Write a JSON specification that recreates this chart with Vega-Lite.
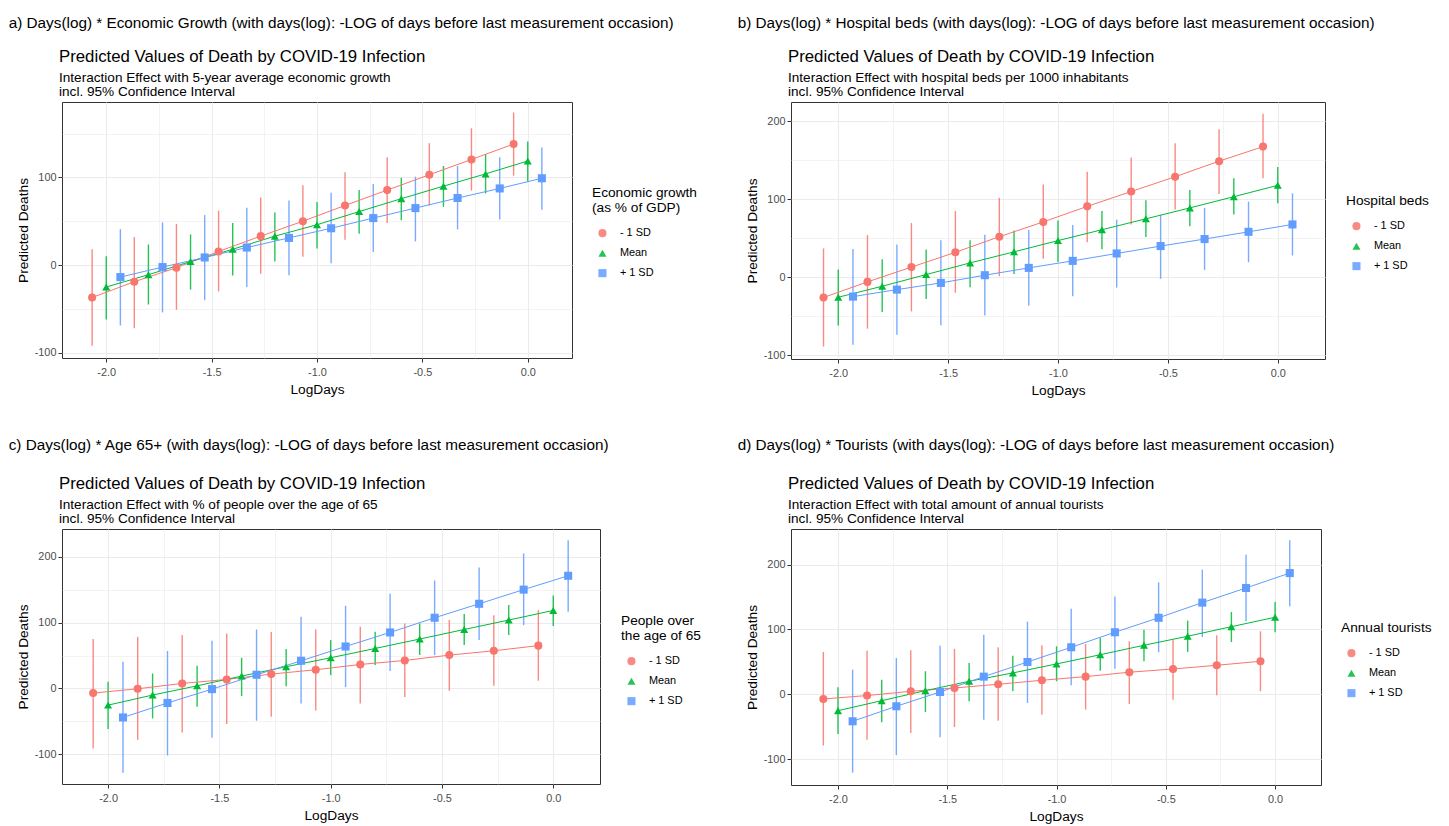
{
"$schema": "https://vega.github.io/schema/vega-lite/v6.json",
"background": "white",
"padding": {"left": 8, "top": 15, "right": 0, "bottom": 0},
"datasets": {"d": [
{"p":"a","g":"- 1 SD","x":-2.067,"y":-37,"lo":-92,"hi":18},
{"p":"a","g":"- 1 SD","x":-1.867,"y":-19,"lo":-72,"hi":32},
{"p":"a","g":"- 1 SD","x":-1.667,"y":-3,"lo":-51,"hi":47},
{"p":"a","g":"- 1 SD","x":-1.467,"y":15.5,"lo":-30,"hi":62},
{"p":"a","g":"- 1 SD","x":-1.267,"y":33,"lo":-10,"hi":77},
{"p":"a","g":"- 1 SD","x":-1.067,"y":50,"lo":9.5,"hi":91},
{"p":"a","g":"- 1 SD","x":-0.867,"y":68,"lo":29,"hi":106},
{"p":"a","g":"- 1 SD","x":-0.667,"y":85.5,"lo":48,"hi":123},
{"p":"a","g":"- 1 SD","x":-0.467,"y":103,"lo":68,"hi":139},
{"p":"a","g":"- 1 SD","x":-0.267,"y":120.5,"lo":85,"hi":156},
{"p":"a","g":"- 1 SD","x":-0.067,"y":138,"lo":102,"hi":174},
{"p":"a","g":"Mean","x":-2.0,"y":-25,"lo":-62,"hi":10},
{"p":"a","g":"Mean","x":-1.8,"y":-11,"lo":-45,"hi":23.5},
{"p":"a","g":"Mean","x":-1.6,"y":4,"lo":-28,"hi":35},
{"p":"a","g":"Mean","x":-1.4,"y":18,"lo":-12,"hi":48},
{"p":"a","g":"Mean","x":-1.2,"y":33,"lo":4,"hi":60},
{"p":"a","g":"Mean","x":-1.0,"y":46,"lo":19,"hi":72},
{"p":"a","g":"Mean","x":-0.8,"y":61,"lo":35.7,"hi":85.5},
{"p":"a","g":"Mean","x":-0.6,"y":75.7,"lo":51,"hi":99.6},
{"p":"a","g":"Mean","x":-0.4,"y":90,"lo":66.5,"hi":113},
{"p":"a","g":"Mean","x":-0.2,"y":104,"lo":81.7,"hi":126.7},
{"p":"a","g":"Mean","x":0.0,"y":118.7,"lo":95,"hi":141},
{"p":"a","g":"+ 1 SD","x":-1.933,"y":-13.7,"lo":-69,"hi":41},
{"p":"a","g":"+ 1 SD","x":-1.733,"y":-2.3,"lo":-54,"hi":48.6},
{"p":"a","g":"+ 1 SD","x":-1.533,"y":8.7,"lo":-40,"hi":57},
{"p":"a","g":"+ 1 SD","x":-1.333,"y":20,"lo":-25,"hi":65.4},
{"p":"a","g":"+ 1 SD","x":-1.133,"y":31,"lo":-11.5,"hi":73.7},
{"p":"a","g":"+ 1 SD","x":-0.933,"y":42,"lo":2,"hi":82.5},
{"p":"a","g":"+ 1 SD","x":-0.733,"y":53.6,"lo":15,"hi":92.5},
{"p":"a","g":"+ 1 SD","x":-0.533,"y":65,"lo":27,"hi":100.8},
{"p":"a","g":"+ 1 SD","x":-0.333,"y":76.5,"lo":40.6,"hi":113},
{"p":"a","g":"+ 1 SD","x":-0.133,"y":87.4,"lo":52,"hi":123},
{"p":"a","g":"+ 1 SD","x":0.067,"y":99,"lo":63,"hi":134},
{"p":"b","g":"- 1 SD","x":-2.067,"y":-26,"lo":-89,"hi":37},
{"p":"b","g":"- 1 SD","x":-1.867,"y":-6,"lo":-66,"hi":54},
{"p":"b","g":"- 1 SD","x":-1.667,"y":13,"lo":-44,"hi":69.5},
{"p":"b","g":"- 1 SD","x":-1.467,"y":32,"lo":-20,"hi":85},
{"p":"b","g":"- 1 SD","x":-1.267,"y":52,"lo":1.3,"hi":102},
{"p":"b","g":"- 1 SD","x":-1.067,"y":71,"lo":23.6,"hi":119},
{"p":"b","g":"- 1 SD","x":-0.867,"y":91,"lo":45,"hi":135.5},
{"p":"b","g":"- 1 SD","x":-0.667,"y":110,"lo":67.8,"hi":153.6},
{"p":"b","g":"- 1 SD","x":-0.467,"y":129,"lo":87,"hi":172},
{"p":"b","g":"- 1 SD","x":-0.267,"y":149,"lo":107,"hi":190},
{"p":"b","g":"- 1 SD","x":-0.067,"y":167.7,"lo":127,"hi":210},
{"p":"b","g":"Mean","x":-2.0,"y":-25.7,"lo":-62,"hi":10},
{"p":"b","g":"Mean","x":-1.8,"y":-11.6,"lo":-44.6,"hi":23},
{"p":"b","g":"Mean","x":-1.6,"y":3.4,"lo":-28,"hi":35.6},
{"p":"b","g":"Mean","x":-1.4,"y":18.4,"lo":-12.9,"hi":47.6},
{"p":"b","g":"Mean","x":-1.2,"y":32.6,"lo":4.3,"hi":60},
{"p":"b","g":"Mean","x":-1.0,"y":47,"lo":19.7,"hi":73},
{"p":"b","g":"Mean","x":-0.8,"y":61,"lo":36,"hi":85},
{"p":"b","g":"Mean","x":-0.6,"y":75,"lo":51.5,"hi":98.7},
{"p":"b","g":"Mean","x":-0.4,"y":89,"lo":65.6,"hi":112},
{"p":"b","g":"Mean","x":-0.2,"y":103.4,"lo":80.7,"hi":127},
{"p":"b","g":"Mean","x":0.0,"y":118,"lo":95,"hi":141.6},
{"p":"b","g":"+ 1 SD","x":-1.933,"y":-24.9,"lo":-86.7,"hi":36.4},
{"p":"b","g":"+ 1 SD","x":-1.733,"y":-15.9,"lo":-73.8,"hi":42},
{"p":"b","g":"+ 1 SD","x":-1.533,"y":-7.3,"lo":-61.8,"hi":47.6},
{"p":"b","g":"+ 1 SD","x":-1.333,"y":2.6,"lo":-49.3,"hi":54.4},
{"p":"b","g":"+ 1 SD","x":-1.133,"y":12,"lo":-36.5,"hi":60.5},
{"p":"b","g":"+ 1 SD","x":-0.933,"y":21,"lo":-24.5,"hi":67},
{"p":"b","g":"+ 1 SD","x":-0.733,"y":30.5,"lo":-13.3,"hi":74},
{"p":"b","g":"+ 1 SD","x":-0.533,"y":40,"lo":-2,"hi":80},
{"p":"b","g":"+ 1 SD","x":-0.333,"y":49,"lo":9.4,"hi":89},
{"p":"b","g":"+ 1 SD","x":-0.133,"y":58.3,"lo":19.3,"hi":97},
{"p":"b","g":"+ 1 SD","x":0.067,"y":67.8,"lo":27.9,"hi":107.7},
{"p":"c","g":"- 1 SD","x":-2.067,"y":-7,"lo":-91,"hi":75},
{"p":"c","g":"- 1 SD","x":-1.867,"y":-0.5,"lo":-78,"hi":78.4},
{"p":"c","g":"- 1 SD","x":-1.667,"y":7.6,"lo":-66.7,"hi":81},
{"p":"c","g":"- 1 SD","x":-1.467,"y":13.7,"lo":-54,"hi":83.5},
{"p":"c","g":"- 1 SD","x":-1.267,"y":21.8,"lo":-43,"hi":85.6},
{"p":"c","g":"- 1 SD","x":-1.067,"y":28.4,"lo":-33.4,"hi":89.5},
{"p":"c","g":"- 1 SD","x":-0.867,"y":36.4,"lo":-22.7,"hi":93.6},
{"p":"c","g":"- 1 SD","x":-0.667,"y":42.5,"lo":-13,"hi":98.7},
{"p":"c","g":"- 1 SD","x":-0.467,"y":50.6,"lo":-3.5,"hi":103.8},
{"p":"c","g":"- 1 SD","x":-0.267,"y":57.2,"lo":4,"hi":111},
{"p":"c","g":"- 1 SD","x":-0.067,"y":65,"lo":11.7,"hi":119},
{"p":"c","g":"Mean","x":-2.0,"y":-25.3,"lo":-61.7,"hi":10},
{"p":"c","g":"Mean","x":-1.8,"y":-10,"lo":-45.5,"hi":22.8},
{"p":"c","g":"Mean","x":-1.6,"y":4,"lo":-27.8,"hi":34.4},
{"p":"c","g":"Mean","x":-1.4,"y":18.8,"lo":-11.6,"hi":46.6},
{"p":"c","g":"Mean","x":-1.2,"y":33,"lo":3.5,"hi":59.8},
{"p":"c","g":"Mean","x":-1.0,"y":46.6,"lo":20.3,"hi":73.4},
{"p":"c","g":"Mean","x":-0.8,"y":60.7,"lo":35.5,"hi":86},
{"p":"c","g":"Mean","x":-0.6,"y":75,"lo":50.6,"hi":98.7},
{"p":"c","g":"Mean","x":-0.4,"y":89.5,"lo":65.8,"hi":113},
{"p":"c","g":"Mean","x":-0.2,"y":103.8,"lo":81,"hi":126.5},
{"p":"c","g":"Mean","x":0.0,"y":118.4,"lo":94.7,"hi":141},
{"p":"c","g":"+ 1 SD","x":-1.933,"y":-44,"lo":-128,"hi":40.5},
{"p":"c","g":"+ 1 SD","x":-1.733,"y":-22,"lo":-101.7,"hi":57},
{"p":"c","g":"+ 1 SD","x":-1.533,"y":-1,"lo":-74.8,"hi":72.4},
{"p":"c","g":"+ 1 SD","x":-1.333,"y":20.8,"lo":-49,"hi":89.5},
{"p":"c","g":"+ 1 SD","x":-1.133,"y":42,"lo":-22.7,"hi":108.8},
{"p":"c","g":"+ 1 SD","x":-0.933,"y":63.7,"lo":2,"hi":125.5},
{"p":"c","g":"+ 1 SD","x":-0.733,"y":85,"lo":26.4,"hi":143.7},
{"p":"c","g":"+ 1 SD","x":-0.533,"y":107.3,"lo":50.6,"hi":163.9},
{"p":"c","g":"+ 1 SD","x":-0.333,"y":128.5,"lo":73.4,"hi":183.6},
{"p":"c","g":"+ 1 SD","x":-0.133,"y":150,"lo":96,"hi":205},
{"p":"c","g":"+ 1 SD","x":0.067,"y":171,"lo":116.4,"hi":225},
{"p":"d","g":"- 1 SD","x":-2.067,"y":-7.3,"lo":-79,"hi":65.3},
{"p":"d","g":"- 1 SD","x":-1.867,"y":-2,"lo":-70,"hi":67.3},
{"p":"d","g":"- 1 SD","x":-1.667,"y":4.6,"lo":-59.7,"hi":67.9},
{"p":"d","g":"- 1 SD","x":-1.467,"y":9.7,"lo":-50.5,"hi":70},
{"p":"d","g":"- 1 SD","x":-1.267,"y":15.4,"lo":-40.7,"hi":72.5},
{"p":"d","g":"- 1 SD","x":-1.067,"y":21.6,"lo":-31.5,"hi":75.6},
{"p":"d","g":"- 1 SD","x":-0.867,"y":27.2,"lo":-23.7,"hi":77.6},
{"p":"d","g":"- 1 SD","x":-0.667,"y":34,"lo":-15,"hi":81.8},
{"p":"d","g":"- 1 SD","x":-0.467,"y":39,"lo":-8.3,"hi":84},
{"p":"d","g":"- 1 SD","x":-0.267,"y":44.7,"lo":-1.5,"hi":91},
{"p":"d","g":"- 1 SD","x":-0.067,"y":50.9,"lo":4.6,"hi":97.2},
{"p":"d","g":"Mean","x":-2.0,"y":-25.3,"lo":-61.3,"hi":10.8},
{"p":"d","g":"Mean","x":-1.8,"y":-9.9,"lo":-43.2,"hi":22.5},
{"p":"d","g":"Mean","x":-1.6,"y":5.6,"lo":-27.3,"hi":35.5},
{"p":"d","g":"Mean","x":-1.4,"y":20,"lo":-10.8,"hi":48.3},
{"p":"d","g":"Mean","x":-1.2,"y":32.9,"lo":4.6,"hi":59.6},
{"p":"d","g":"Mean","x":-1.0,"y":46.8,"lo":20,"hi":74},
{"p":"d","g":"Mean","x":-0.8,"y":61,"lo":36.4,"hi":86.9},
{"p":"d","g":"Mean","x":-0.6,"y":75.6,"lo":50.9,"hi":99.7},
{"p":"d","g":"Mean","x":-0.4,"y":89.5,"lo":65.3,"hi":113.6},
{"p":"d","g":"Mean","x":-0.2,"y":104.3,"lo":80.7,"hi":127},
{"p":"d","g":"Mean","x":0.0,"y":118.8,"lo":95.7,"hi":142.4},
{"p":"d","g":"+ 1 SD","x":-1.933,"y":-41.7,"lo":-121,"hi":38},
{"p":"d","g":"+ 1 SD","x":-1.733,"y":-18.5,"lo":-94,"hi":56},
{"p":"d","g":"+ 1 SD","x":-1.533,"y":3.5,"lo":-66.4,"hi":75},
{"p":"d","g":"+ 1 SD","x":-1.333,"y":27.2,"lo":-39.2,"hi":92},
{"p":"d","g":"+ 1 SD","x":-1.133,"y":49.8,"lo":-13.4,"hi":112},
{"p":"d","g":"+ 1 SD","x":-0.933,"y":72.5,"lo":13.9,"hi":132},
{"p":"d","g":"+ 1 SD","x":-0.733,"y":95.7,"lo":39.5,"hi":151},
{"p":"d","g":"+ 1 SD","x":-0.533,"y":118,"lo":64.8,"hi":172.8},
{"p":"d","g":"+ 1 SD","x":-0.333,"y":141.4,"lo":88.4,"hi":192.3},
{"p":"d","g":"+ 1 SD","x":-0.133,"y":164,"lo":112.6,"hi":215.4},
{"p":"d","g":"+ 1 SD","x":0.067,"y":187,"lo":135.8,"hi":237.7}
]},
"config": {
  "font": "Liberation Sans",
  "view": {"stroke": "#333333", "strokeWidth": 1},
  "axis": {"domain": false, "tickColor": "#333333", "tickSize": 4, "labelColor": "#4D4D4D", "labelFontSize": 10.9, "labelPadding": 2, "titleFontSize": 13.7, "titleFontWeight": "normal", "titleColor": "black", "titlePadding": 4, "gridColor": "#EBEBEB"},
  "axisX": {"labelPadding": 4, "titlePadding": 6},
  "title": {"anchor": "start", "frame": "group", "fontSize": 16.8, "fontWeight": "normal", "color": "black", "subtitleFontSize": 13.6, "subtitleColor": "black", "subtitleLineHeight": 14, "subtitlePadding": 6, "offset": 3, "dx": -3},
  "legend": {"orient": "none", "titleFontSize": 13.7, "titleFontWeight": "normal", "titleColor": "black", "titleLineHeight": 15, "titlePadding": 13, "labelFontSize": 10.9, "labelColor": "black", "symbolSize": 65, "symbolStrokeWidth": 0, "rowPadding": 8, "labelOffset": 12, "symbolOffset": 5, "padding": 0}
},
"resolve": {"scale": {"color": "independent", "shape": "independent"}, "legend": {"color": "independent", "shape": "independent"}},
"spacing": 38,
"vconcat": [
{"hconcat": [
 {"title": {"text": "a) Days(log) * Economic Growth (with days(log): -LOG of days before last measurement occasion)", "anchor": "start", "frame": "bounds", "fontSize": 15.3, "fontWeight": "normal", "color": "black", "dx": -7, "offset": 17},
  "resolve": {"scale": {"color": "independent", "shape": "independent"}, "legend": {"color": "independent", "shape": "independent"}},
  "vconcat": [{
  "width": 510, "height": 256,
  "title": {"text": "Predicted Values of Death by COVID-19 Infection", "subtitle": ["Interaction Effect with 5-year average economic growth", "incl. 95% Confidence Interval"]},
  "data": {"name": "d"},
  "transform": [{"filter": "datum.p == 'a'"}],
  "encoding": {
    "x": {"field": "x", "type": "quantitative", "title": "LogDays", "scale": {"domain": [-2.21, 0.21], "nice": false, "zero": false},
      "axis": {"values": [-2.0, -1.75, -1.5, -1.25, -1.0, -0.75, -0.5, -0.25, 0.0], "labelExpr": "abs(datum.value*4) % 2 == 1 ? '' : replace(format(datum.value, '.1f'), '\u2212', '-')", "tickOpacity": {"condition": {"test": "abs(datum.value*4) % 2 == 1", "value": 0}, "value": 1}, "gridWidth": {"condition": {"test": "abs(datum.value*4) % 2 == 1", "value": 0.6}, "value": 1.1}}},
    "color": {"field": "g", "type": "nominal", "title": ["Economic growth", "(as % of GDP)"], "scale": {"domain": ["- 1 SD", "Mean", "+ 1 SD"], "range": ["#F8766D", "#00BA38", "#619CFF"]}, "legend": {"legendX": 530, "legendY": 84}}
  },
  "layer": [
    {"mark": {"type": "rule", "strokeWidth": 1.4, "opacity": 0.85}, "encoding": {"y": {"field": "lo", "type": "quantitative", "title": "Predicted Deaths", "scale": {"domain": [-106, 186], "nice": false, "zero": false}, "axis": {"values": [-100, -50, 0, 50, 100, 150], "labelExpr": "datum.value % 100 != 0 ? '' : replace(format(datum.value, 'd'), '\u2212', '-')", "tickOpacity": {"condition": {"test": "datum.value % 100 != 0", "value": 0}, "value": 1}, "gridWidth": {"condition": {"test": "datum.value % 100 != 0", "value": 0.6}, "value": 1.1}}}, "y2": {"field": "hi"}}},
    {"mark": {"type": "line", "strokeWidth": 1}, "encoding": {"y": {"field": "y", "type": "quantitative"}}},
    {"mark": {"type": "point", "filled": true, "size": 65, "opacity": 1}, "encoding": {"y": {"field": "y", "type": "quantitative"}, "shape": {"field": "g", "type": "nominal", "title": ["Economic growth", "(as % of GDP)"], "scale": {"domain": ["- 1 SD", "Mean", "+ 1 SD"], "range": ["circle", "triangle-up", "square"]}, "legend": {"legendX": 530, "legendY": 84}}}}
  ]}]},
 {"title": {"text": "b) Days(log) * Hospital beds (with days(log): -LOG of days before last measurement occasion)", "anchor": "start", "frame": "bounds", "fontSize": 15.3, "fontWeight": "normal", "color": "black", "dx": -7, "offset": 17},
  "resolve": {"scale": {"color": "independent", "shape": "independent"}, "legend": {"color": "independent", "shape": "independent"}},
  "vconcat": [{
  "width": 534, "height": 257,
  "title": {"text": "Predicted Values of Death by COVID-19 Infection", "subtitle": ["Interaction Effect with hospital beds per 1000 inhabitants", "incl. 95% Confidence Interval"]},
  "data": {"name": "d"},
  "transform": [{"filter": "datum.p == 'b'"}],
  "encoding": {
    "x": {"field": "x", "type": "quantitative", "title": "LogDays", "scale": {"domain": [-2.215, 0.215], "nice": false, "zero": false},
      "axis": {"values": [-2.0, -1.75, -1.5, -1.25, -1.0, -0.75, -0.5, -0.25, 0.0], "labelExpr": "abs(datum.value*4) % 2 == 1 ? '' : replace(format(datum.value, '.1f'), '\u2212', '-')", "tickOpacity": {"condition": {"test": "abs(datum.value*4) % 2 == 1", "value": 0}, "value": 1}, "gridWidth": {"condition": {"test": "abs(datum.value*4) % 2 == 1", "value": 0.6}, "value": 1.1}}},
    "color": {"field": "g", "type": "nominal", "title": "Hospital beds", "scale": {"domain": ["- 1 SD", "Mean", "+ 1 SD"], "range": ["#F8766D", "#00BA38", "#619CFF"]}, "legend": {"legendX": 555, "legendY": 92}}
  },
  "layer": [
    {"mark": {"type": "rule", "strokeWidth": 1.4, "opacity": 0.85}, "encoding": {"y": {"field": "lo", "type": "quantitative", "title": "Predicted Deaths", "scale": {"domain": [-105, 225], "nice": false, "zero": false}, "axis": {"values": [-100, -50, 0, 50, 100, 150, 200], "labelExpr": "datum.value % 100 != 0 ? '' : replace(format(datum.value, 'd'), '\u2212', '-')", "tickOpacity": {"condition": {"test": "datum.value % 100 != 0", "value": 0}, "value": 1}, "gridWidth": {"condition": {"test": "datum.value % 100 != 0", "value": 0.6}, "value": 1.1}}}, "y2": {"field": "hi"}}},
    {"mark": {"type": "line", "strokeWidth": 1}, "encoding": {"y": {"field": "y", "type": "quantitative"}}},
    {"mark": {"type": "point", "filled": true, "size": 65, "opacity": 1}, "encoding": {"y": {"field": "y", "type": "quantitative"}, "shape": {"field": "g", "type": "nominal", "title": "Hospital beds", "scale": {"domain": ["- 1 SD", "Mean", "+ 1 SD"], "range": ["circle", "triangle-up", "square"]}, "legend": {"legendX": 555, "legendY": 92}}}}
  ]}]}
 ], "spacing": 39, "resolve": {"scale": {"color": "independent", "shape": "independent"}, "legend": {"color": "independent", "shape": "independent"}}},
{"hconcat": [
 {"title": {"text": "c) Days(log) * Age 65+ (with days(log): -LOG of days before last measurement occasion)", "anchor": "start", "frame": "bounds", "fontSize": 15.3, "fontWeight": "normal", "color": "black", "dx": -7, "offset": 22},
  "resolve": {"scale": {"color": "independent", "shape": "independent"}, "legend": {"color": "independent", "shape": "independent"}},
  "vconcat": [{
  "width": 538, "height": 255,
  "title": {"text": "Predicted Values of Death by COVID-19 Infection", "subtitle": ["Interaction Effect with % of people over the age of 65", "incl. 95% Confidence Interval"]},
  "data": {"name": "d"},
  "transform": [{"filter": "datum.p == 'c'"}],
  "encoding": {
    "x": {"field": "x", "type": "quantitative", "title": "LogDays", "scale": {"domain": [-2.207, 0.21], "nice": false, "zero": false},
      "axis": {"values": [-2.0, -1.75, -1.5, -1.25, -1.0, -0.75, -0.5, -0.25, 0.0], "labelExpr": "abs(datum.value*4) % 2 == 1 ? '' : replace(format(datum.value, '.1f'), '\u2212', '-')", "tickOpacity": {"condition": {"test": "abs(datum.value*4) % 2 == 1", "value": 0}, "value": 1}, "gridWidth": {"condition": {"test": "abs(datum.value*4) % 2 == 1", "value": 0.6}, "value": 1.1}}},
    "color": {"field": "g", "type": "nominal", "title": ["People over", "the age of 65"], "scale": {"domain": ["- 1 SD", "Mean", "+ 1 SD"], "range": ["#F8766D", "#00BA38", "#619CFF"]}, "legend": {"legendX": 559, "legendY": 85}}
  },
  "layer": [
    {"mark": {"type": "rule", "strokeWidth": 1.4, "opacity": 0.85}, "encoding": {"y": {"field": "lo", "type": "quantitative", "title": "Predicted Deaths", "scale": {"domain": [-145, 242], "nice": false, "zero": false}, "axis": {"values": [-100, -50, 0, 50, 100, 150, 200], "labelExpr": "datum.value % 100 != 0 ? '' : replace(format(datum.value, 'd'), '\u2212', '-')", "tickOpacity": {"condition": {"test": "datum.value % 100 != 0", "value": 0}, "value": 1}, "gridWidth": {"condition": {"test": "datum.value % 100 != 0", "value": 0.6}, "value": 1.1}}}, "y2": {"field": "hi"}}},
    {"mark": {"type": "line", "strokeWidth": 1}, "encoding": {"y": {"field": "y", "type": "quantitative"}}},
    {"mark": {"type": "point", "filled": true, "size": 65, "opacity": 1}, "encoding": {"y": {"field": "y", "type": "quantitative"}, "shape": {"field": "g", "type": "nominal", "title": ["People over", "the age of 65"], "scale": {"domain": ["- 1 SD", "Mean", "+ 1 SD"], "range": ["circle", "triangle-up", "square"]}, "legend": {"legendX": 559, "legendY": 85}}}}
  ]}]},
 {"title": {"text": "d) Days(log) * Tourists (with days(log): -LOG of days before last measurement occasion)", "anchor": "start", "frame": "bounds", "fontSize": 15.3, "fontWeight": "normal", "color": "black", "dx": -7, "offset": 22},
  "resolve": {"scale": {"color": "independent", "shape": "independent"}, "legend": {"color": "independent", "shape": "independent"}},
  "vconcat": [{
  "width": 530, "height": 256,
  "title": {"text": "Predicted Values of Death by COVID-19 Infection", "subtitle": ["Interaction Effect with total amount of annual tourists", "incl. 95% Confidence Interval"]},
  "data": {"name": "d"},
  "transform": [{"filter": "datum.p == 'd'"}],
  "encoding": {
    "x": {"field": "x", "type": "quantitative", "title": "LogDays", "scale": {"domain": [-2.215, 0.21], "nice": false, "zero": false},
      "axis": {"values": [-2.0, -1.75, -1.5, -1.25, -1.0, -0.75, -0.5, -0.25, 0.0], "labelExpr": "abs(datum.value*4) % 2 == 1 ? '' : replace(format(datum.value, '.1f'), '\u2212', '-')", "tickOpacity": {"condition": {"test": "abs(datum.value*4) % 2 == 1", "value": 0}, "value": 1}, "gridWidth": {"condition": {"test": "abs(datum.value*4) % 2 == 1", "value": 0.6}, "value": 1.1}}},
    "color": {"field": "g", "type": "nominal", "title": "Annual tourists", "scale": {"domain": ["- 1 SD", "Mean", "+ 1 SD"], "range": ["#F8766D", "#00BA38", "#619CFF"]}, "legend": {"legendX": 550, "legendY": 92}}
  },
  "layer": [
    {"mark": {"type": "rule", "strokeWidth": 1.4, "opacity": 0.85}, "encoding": {"y": {"field": "lo", "type": "quantitative", "title": "Predicted Deaths", "scale": {"domain": [-140, 255], "nice": false, "zero": false}, "axis": {"values": [-100, -50, 0, 50, 100, 150, 200, 250], "labelExpr": "datum.value % 100 != 0 ? '' : replace(format(datum.value, 'd'), '\u2212', '-')", "tickOpacity": {"condition": {"test": "datum.value % 100 != 0", "value": 0}, "value": 1}, "gridWidth": {"condition": {"test": "datum.value % 100 != 0", "value": 0.6}, "value": 1.1}}}, "y2": {"field": "hi"}}},
    {"mark": {"type": "line", "strokeWidth": 1}, "encoding": {"y": {"field": "y", "type": "quantitative"}}},
    {"mark": {"type": "point", "filled": true, "size": 65, "opacity": 1}, "encoding": {"y": {"field": "y", "type": "quantitative"}, "shape": {"field": "g", "type": "nominal", "title": "Annual tourists", "scale": {"domain": ["- 1 SD", "Mean", "+ 1 SD"], "range": ["circle", "triangle-up", "square"]}, "legend": {"legendX": 550, "legendY": 92}}}}
  ]}]}
 ], "spacing": 35, "resolve": {"scale": {"color": "independent", "shape": "independent"}, "legend": {"color": "independent", "shape": "independent"}}}
]
}
